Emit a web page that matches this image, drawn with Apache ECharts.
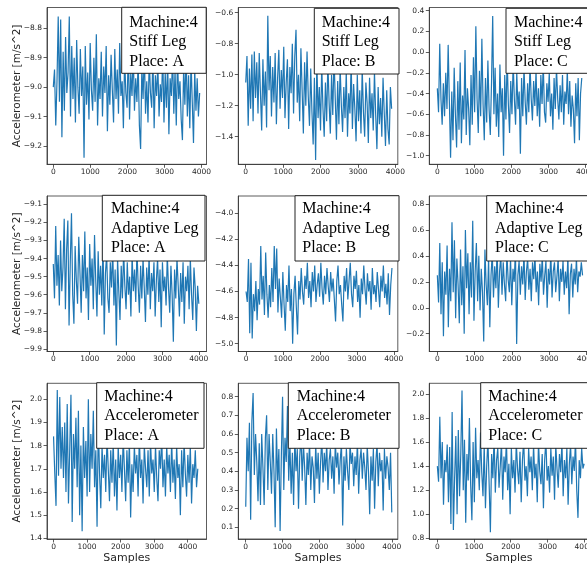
<!DOCTYPE html>
<html><head><meta charset="utf-8">
<script src="https://cdn.jsdelivr.net/npm/echarts@6/dist/echarts.min.js"></script>
<style>html,body{margin:0;padding:0;background:#fff}#c{width:587px;height:567px}</style>
</head><body><div id="c"></div>
<script>
// ---- data ----
const stiffA = [-9.00,-8.94,-9.13,-8.98,-8.76,-9.05,-8.77,-9.17,-8.88,-9.08,-8.83,-9.02,-8.95,-8.76,-9.10,-8.86,-9.04,-8.90,-9.12,-8.84,-9.00,-9.09,-8.87,-9.03,-8.93,-9.24,-8.86,-9.06,-8.95,-9.11,-8.85,-9.01,-9.08,-8.90,-9.05,-8.82,-9.13,-8.97,-9.04,-8.88,-9.10,-8.93,-9.02,-8.86,-9.15,-8.96,-9.06,-8.89,-9.01,-9.12,-8.87,-9.04,-8.94,-9.09,-8.85,-9.03,-8.98,-9.14,-8.90,-9.02,-9.07,-8.86,-9.11,-8.95,-9.03,-8.88,-9.08,-8.97,-9.05,-8.91,-9.13,-9.21,-8.93,-9.04,-8.87,-9.09,-8.98,-9.12,-8.90,-9.02,-9.07,-8.89,-9.14,-8.96,-9.03,-8.92,-9.10,-8.99,-9.05,-8.88,-9.12,-8.95,-9.07,-8.91,-9.16,-8.97,-9.03,-8.89,-9.09,-8.94,-9.13,-8.90,-9.04,-8.98,-9.11,-9.18,-8.93,-9.06,-8.88,-9.10,-8.96,-9.14,-8.91,-9.05,-9.19,-8.94,-9.08,-8.97,-9.10,-9.02];
const stiffB = [-1.05,-0.88,-1.33,-0.96,-1.22,-0.87,-1.30,-0.85,-1.15,-0.92,-1.25,-0.86,-1.12,-1.36,-0.90,-1.20,-0.98,-1.34,-0.62,-1.10,-0.88,-1.27,-0.95,-1.18,-0.86,-1.32,-1.02,-0.84,-1.22,-0.97,-1.15,-0.82,-1.28,-1.05,-0.90,-1.35,-0.95,-1.12,-0.80,-1.25,-0.88,-0.71,-1.18,-1.00,-1.30,-0.83,-1.10,-1.38,-0.92,-1.20,-0.85,-1.14,-1.33,-0.96,-1.24,-1.45,-1.02,-1.55,-0.90,-1.28,-1.08,-1.36,-0.94,-1.22,-1.40,-1.05,-1.30,-0.92,-1.18,-1.38,-1.00,-1.26,-0.88,-1.15,-1.42,-1.04,-1.32,-0.95,-1.20,-1.37,-1.08,-1.28,-0.98,-1.40,-1.12,-1.25,-0.92,-1.35,-1.06,-1.22,-1.43,-1.00,-1.30,-1.10,-1.38,-0.96,-1.24,-1.40,-1.05,-1.18,-1.44,-1.02,-1.28,-1.12,-1.36,-0.98,-1.26,-1.48,-1.08,-1.32,-1.15,-1.40,-1.02,-1.25,-1.46,-1.10,-1.35,-1.45,-1.08,-1.22];
const stiffC = [-0.35,-0.58,0.08,-0.45,-0.70,-0.30,-0.62,-0.20,-0.55,0.07,-0.48,-1.02,-0.38,-0.85,-0.15,-0.60,-0.92,-0.28,-0.75,-0.10,-0.88,-0.42,-0.65,0.02,-0.80,-0.35,-0.55,-0.90,-0.22,-0.70,-0.05,-0.58,0.25,-0.45,-0.78,-0.18,-0.62,0.13,-0.50,-0.85,-0.25,-0.68,-0.08,-0.55,-0.80,-0.30,0.35,-0.60,-0.15,-0.72,-0.40,-0.82,-0.12,-0.58,-0.35,-1.00,-0.22,-0.65,-0.05,-0.50,-0.78,-0.28,-0.60,-0.10,-0.45,-0.70,-0.20,-0.55,-0.38,-0.98,-0.25,-0.62,-0.15,-0.48,-0.70,-0.30,-0.58,-0.12,-0.45,-0.66,-0.28,-0.52,-0.18,-0.62,-0.35,-0.72,-0.22,-0.50,-0.10,-0.58,-0.68,-0.30,-0.48,-0.20,-0.62,-0.40,-0.75,-0.25,-0.55,-0.15,-0.45,-0.65,-0.32,-0.58,-0.22,-0.70,-0.38,-0.50,-0.18,-0.60,-0.28,-0.72,-0.42,-0.55,-0.88,-0.30,-0.62,-0.25,-0.85,-0.40,-0.25];
const adaptA = [-9.43,-9.62,-9.22,-9.55,-9.38,-9.66,-9.30,-9.58,-9.45,-9.18,-9.68,-9.35,-9.19,-9.77,-9.42,-9.15,-9.60,-9.76,-9.33,-9.52,-9.65,-9.28,-9.48,-9.70,-9.38,-9.58,-9.25,-9.62,-9.45,-9.74,-9.32,-9.55,-9.40,-9.68,-9.27,-9.52,-9.72,-9.36,-9.60,-9.44,-9.66,-9.30,-9.82,-9.48,-9.38,-9.62,-9.70,-9.42,-9.56,-9.35,-9.66,-9.46,-9.88,-9.40,-9.58,-9.74,-9.44,-9.62,-9.36,-9.55,-9.68,-9.42,-9.60,-9.50,-9.72,-9.38,-9.58,-9.46,-9.64,-9.35,-9.55,-9.70,-9.44,-9.62,-9.40,-9.56,-9.75,-9.45,-9.60,-9.38,-9.68,-9.48,-9.58,-9.42,-9.72,-9.52,-9.40,-9.64,-9.46,-9.78,-9.42,-9.58,-9.50,-9.66,-9.38,-9.56,-9.70,-9.44,-9.60,-9.86,-9.46,-9.62,-9.40,-9.55,-9.72,-9.48,-9.64,-9.42,-9.76,-9.50,-9.58,-9.44,-9.68,-9.40,-9.60,-9.74,-9.45,-9.56,-9.80,-9.55,-9.65];
const adaptB = [-4.60,-4.68,-4.35,-4.92,-4.38,-4.96,-4.62,-4.75,-4.52,-4.82,-4.58,-4.70,-4.25,-4.66,-4.48,-4.78,-4.30,-4.62,-4.80,-4.55,-4.72,-4.42,-4.68,-4.25,-4.58,-4.27,-4.76,-4.50,-4.65,-4.80,-4.45,-4.70,-4.90,-4.55,-4.68,-4.40,-4.75,-4.58,-5.00,-4.62,-4.48,-4.72,-4.93,-4.52,-4.66,-4.42,-4.60,-4.70,-4.48,-4.58,-4.38,-4.65,-4.52,-4.72,-4.45,-4.60,-4.40,-4.68,-4.55,-4.46,-4.64,-4.38,-4.58,-4.70,-4.48,-4.62,-4.42,-4.56,-4.68,-4.45,-4.60,-4.50,-4.66,-4.83,-4.52,-4.40,-4.62,-4.55,-4.70,-4.83,-4.48,-4.60,-4.42,-4.66,-4.52,-4.38,-4.62,-4.72,-4.48,-4.58,-4.44,-4.68,-4.55,-4.80,-4.50,-4.62,-4.40,-4.58,-4.70,-4.46,-4.60,-4.52,-4.74,-4.42,-4.62,-4.55,-4.68,-4.45,-4.58,-4.72,-4.48,-4.60,-4.40,-4.65,-4.54,-4.70,-4.46,-4.78,-4.55,-4.42];
const adaptC = [0.25,0.04,0.50,-0.05,0.35,-0.22,0.28,0.10,0.48,-0.15,0.30,0.05,0.66,0.12,0.52,-0.08,0.38,0.18,-0.12,0.45,0.02,0.32,-0.20,0.60,0.15,0.42,-0.05,0.35,0.08,0.67,-0.10,0.28,0.50,0.05,0.40,-0.02,0.30,0.12,-0.26,0.45,0.18,0.02,0.38,-0.15,0.25,0.42,0.08,0.32,0.15,0.46,0.00,0.28,0.40,0.10,0.35,0.18,0.05,0.42,0.22,0.12,0.38,0.02,0.30,0.20,0.45,-0.28,0.25,0.36,0.10,0.32,0.18,0.42,0.06,0.28,0.38,0.14,0.30,0.05,0.35,0.22,0.40,0.12,0.28,0.02,0.34,0.20,0.40,0.10,0.25,0.36,0.00,0.30,0.18,0.42,0.08,0.28,0.35,0.12,0.24,0.38,0.05,0.30,0.20,0.36,0.10,0.28,0.15,0.40,-0.05,0.26,0.34,0.08,0.30,0.18,0.38,0.12,0.28,0.24,0.35,0.25];
const accelA = [1.84,1.68,1.54,2.04,1.67,2.01,1.70,1.88,1.66,1.90,1.60,1.98,1.55,1.78,2.02,1.47,1.85,1.70,1.92,1.62,1.95,1.50,1.80,1.43,1.88,1.66,1.82,1.58,2.00,1.60,1.85,1.70,1.95,1.62,1.78,1.45,1.90,1.68,1.53,1.80,1.66,1.76,1.60,1.84,1.70,1.56,1.78,1.64,1.82,1.58,1.74,1.52,1.80,1.66,1.76,1.60,1.84,1.70,1.56,1.78,1.64,1.82,1.49,1.72,1.60,1.80,1.68,1.76,1.58,1.84,1.66,1.74,1.55,1.80,1.70,1.62,1.78,1.58,1.82,1.68,1.74,1.60,1.80,1.66,1.56,1.78,1.70,1.84,1.62,1.74,1.58,1.80,1.68,1.76,1.60,1.82,1.64,1.74,1.57,1.80,1.66,1.72,1.50,1.78,1.62,1.82,1.68,1.58,1.76,1.64,1.80,1.55,1.72,1.66,1.78,1.62,1.70];
const accelB = [0.21,0.58,0.40,0.66,0.14,0.67,0.82,0.38,0.60,0.45,0.24,0.55,0.22,0.60,0.42,0.22,0.58,0.70,0.30,0.60,0.45,0.28,0.60,0.40,0.10,0.63,0.35,0.52,0.08,0.48,0.80,0.30,0.58,0.45,0.75,0.35,0.55,0.28,0.50,0.22,0.58,0.40,0.52,0.20,0.48,0.60,0.35,0.55,0.42,0.22,0.50,0.38,0.56,0.30,0.48,0.42,0.23,0.55,0.36,0.50,0.28,0.45,0.58,0.34,0.50,0.40,0.55,0.30,0.46,0.52,0.36,0.48,0.28,0.56,0.42,0.50,0.33,0.46,0.55,0.11,0.48,0.35,0.52,0.40,0.30,0.55,0.44,0.50,0.32,0.48,0.38,0.56,0.28,0.46,0.52,0.36,0.50,0.42,0.30,0.54,0.40,0.17,0.48,0.35,0.52,0.20,0.45,0.55,0.32,0.50,0.40,0.46,0.19,0.52,0.36,0.48,0.42,0.30,0.50,0.18];
const accelC = [1.40,1.27,1.81,1.30,1.60,1.08,1.45,1.35,1.58,1.10,1.56,0.92,1.85,0.87,1.30,1.65,1.00,1.70,1.15,1.50,2.03,1.20,1.62,0.93,1.50,1.28,1.80,1.25,0.95,1.60,1.10,1.72,1.30,1.45,1.20,1.68,1.35,1.15,1.58,1.05,1.40,1.62,1.25,0.85,1.50,1.30,1.65,1.18,1.45,1.55,1.22,1.40,1.60,1.12,1.48,1.35,1.62,1.20,1.42,1.00,1.55,1.30,1.45,1.18,1.60,1.38,1.25,1.52,1.10,1.45,1.62,1.28,1.40,1.15,1.55,1.35,1.48,1.20,1.58,1.30,1.42,1.10,1.60,1.36,1.25,1.50,1.05,1.45,1.62,1.28,1.40,1.18,1.55,1.32,1.48,1.12,1.58,1.38,1.22,1.50,1.35,1.60,1.15,1.45,1.30,1.55,1.08,1.42,1.58,1.25,1.48,1.36,1.62,1.20,0.97,1.45,1.30,1.55,1.38,1.42];

const seriesValues = [stiffA, stiffB, stiffC, adaptA, adaptB, adaptC, accelA, accelB, accelC];
const sampleCounts = [3950, 3900, 3900, 4000, 3950, 3900, 4300, 4000, 4000];

const xTickLabels = [0, 1000, 2000, 3000, 4000];
const yTicksStiffA = [-9.2, -9.1, -9.0, -8.9, -8.8];
const yTicksStiffB = [-1.4, -1.2, -1.0, -0.8, -0.6];
const yTicksStiffC = [-1.0, -0.8, -0.6, -0.4, -0.2, 0.0, 0.2, 0.4];
const yTicksAdaptA = [-9.9, -9.8, -9.7, -9.6, -9.5, -9.4, -9.3, -9.2, -9.1];
const yTicksAdaptB = [-5.0, -4.8, -4.6, -4.4, -4.2, -4.0];
const yTicksAdaptC = [-0.2, 0.0, 0.2, 0.4, 0.6, 0.8];
const yTicksAccelA = [1.4, 1.5, 1.6, 1.7, 1.8, 1.9, 2.0];
const yTicksAccelB = [0.1, 0.2, 0.3, 0.4, 0.5, 0.6, 0.7, 0.8];
const yTicksAccelC = [0.8, 1.0, 1.2, 1.4, 1.6, 1.8, 2.0];
const yTickSets = [yTicksStiffA, yTicksStiffB, yTicksStiffC, yTicksAdaptA, yTicksAdaptB, yTicksAdaptC, yTicksAccelA, yTicksAccelB, yTicksAccelC];

const panelTexts = [
  'Machine:4\nStiff Leg\nPlace: A', 'Machine:4\nStiff Leg\nPlace: B', 'Machine:4\nStiff Leg\nPlace: C',
  'Machine:4\nAdaptive Leg\nPlace: A', 'Machine:4\nAdaptive Leg\nPlace: B', 'Machine:4\nAdaptive Leg\nPlace: C',
  'Machine:4\nAccelerometer\nPlace: A', 'Machine:4\nAccelerometer\nPlace: B', 'Machine:4\nAccelerometer\nPlace: C'
];
const yAxisTitle = 'Accelerometer [m/s^2]';
const xAxisTitle = 'Samples';

// ---- layout (pixels / axis extents) ----
const colLeft = [47, 238.3, 429.3];
const colWidth = 159.5;
const rowTop = [7.5, 196, 383.3];
const rowHeight = [156.8, 155.5, 155.7];
const xExtent = [[-170,4135],[-199,4065],[-217,4090],[-173,4211],[-210,4108],[-216,4068],[-195,4560],[-204,4165],[-219,4127]];
const yExtent = [[-9.2622,-8.7293],[-1.578,-0.5665],[-1.083,0.431],[-9.9138,-9.0541],[-5.0598,-3.8673],[-0.3372,0.8617],[1.397,2.069],[0.0373,0.8718],[0.7942,2.089]];
const boxes = [ // x, y, w, h, textX, textTop
  [121.7, 7.3, 84.5, 66, 129.3, 13], [314.3, 8.3, 84.7, 65.7, 321.7, 13], [506, 8.3, 90, 65, 514, 13],
  [102.3, 195.3, 102.7, 65.7, 111, 199.3], [295, 195.7, 104, 65.3, 302.3, 199.3], [486.7, 195.7, 110, 65.3, 495, 199.5],
  [96.7, 382.7, 107.3, 65.6, 104.3, 387], [288.3, 382.7, 110.7, 65.6, 296.7, 387], [480.7, 382.7, 120, 65.6, 488.3, 387]
];

const fmt = v => (Math.abs(v) < 1e-9 ? 0 : v).toFixed(1).replace('-', '\u2212');
const tickFont = { fontFamily: 'DejaVu Sans', fontSize: 7.5, color: '#262626' };

const grids = [], xAxes = [], yAxes = [], series = [], graphics = [];
for (let i = 0; i < 9; i++) {
  const r = Math.floor(i / 3), c = i % 3;
  grids.push({ left: colLeft[c], top: rowTop[r], width: colWidth, height: rowHeight[r],
    outerBoundsMode: 'none', containLabel: false,
    show: true, borderColor: '#333', borderWidth: 0.8, backgroundColor: 'transparent' });
  xAxes.push({ type: 'value', gridIndex: i, min: xExtent[i][0], max: xExtent[i][1],
    axisLine: { show: true, onZero: false, lineStyle: { color: '#333', width: 0.8 } },
    axisTick: { show: true, length: 3.5, customValues: xTickLabels, lineStyle: { color: '#333', width: 0.8 } },
    axisLabel: Object.assign({ customValues: xTickLabels, margin: 4, formatter: v => String(v) }, tickFont),
    splitLine: { show: false },
    name: r === 2 ? xAxisTitle : '', nameLocation: 'middle', nameGap: 14, nameMoveOverlap: false,
    nameTextStyle: { fontFamily: 'DejaVu Sans', fontSize: 11, color: '#262626' } });
  yAxes.push({ type: 'value', gridIndex: i, min: yExtent[i][0], max: yExtent[i][1],
    axisLine: { show: true, onZero: false, lineStyle: { color: '#333', width: 0.8 } },
    axisTick: { show: true, length: 3.5, customValues: yTickSets[i], lineStyle: { color: '#333', width: 0.8 } },
    axisLabel: Object.assign({ customValues: yTickSets[i], margin: 5, formatter: fmt }, tickFont),
    splitLine: { show: false },
    name: c === 0 ? yAxisTitle : '', nameLocation: 'middle', nameRotate: 90, nameGap: 24, nameMoveOverlap: false,
    nameTextStyle: { fontFamily: 'DejaVu Sans', fontSize: 10.5, color: '#262626' } });
  const vals = seriesValues[i], n = vals.length;
  series.push({ type: 'line', xAxisIndex: i, yAxisIndex: i, showSymbol: false, symbol: 'none',
    data: vals.map((v, k) => [k * sampleCounts[i] / (n - 1), v]),
    lineStyle: { color: '#1f77b4', width: 1.2 }, animation: false, z: 2 });
  const b = boxes[i];
  graphics.push({ type: 'rect', shape: { x: b[0], y: b[1], width: b[2], height: b[3] },
    style: { fill: '#fff', stroke: '#222', lineWidth: 1 }, z: 100 });
  graphics.push({ type: 'text', x: b[4], y: b[5], z: 101,
    style: { text: panelTexts[i], fontFamily: 'Liberation Serif', fontSize: 16, lineHeight: 19.5,
      fill: '#000', verticalAlign: 'top', align: 'left' } });
}

const chart = echarts.init(document.getElementById('c'), null, { renderer: 'canvas' });
chart.setOption({ animation: false, backgroundColor: '#fff', grid: grids, xAxis: xAxes, yAxis: yAxes, series, graphic: graphics });
</script></body></html>
